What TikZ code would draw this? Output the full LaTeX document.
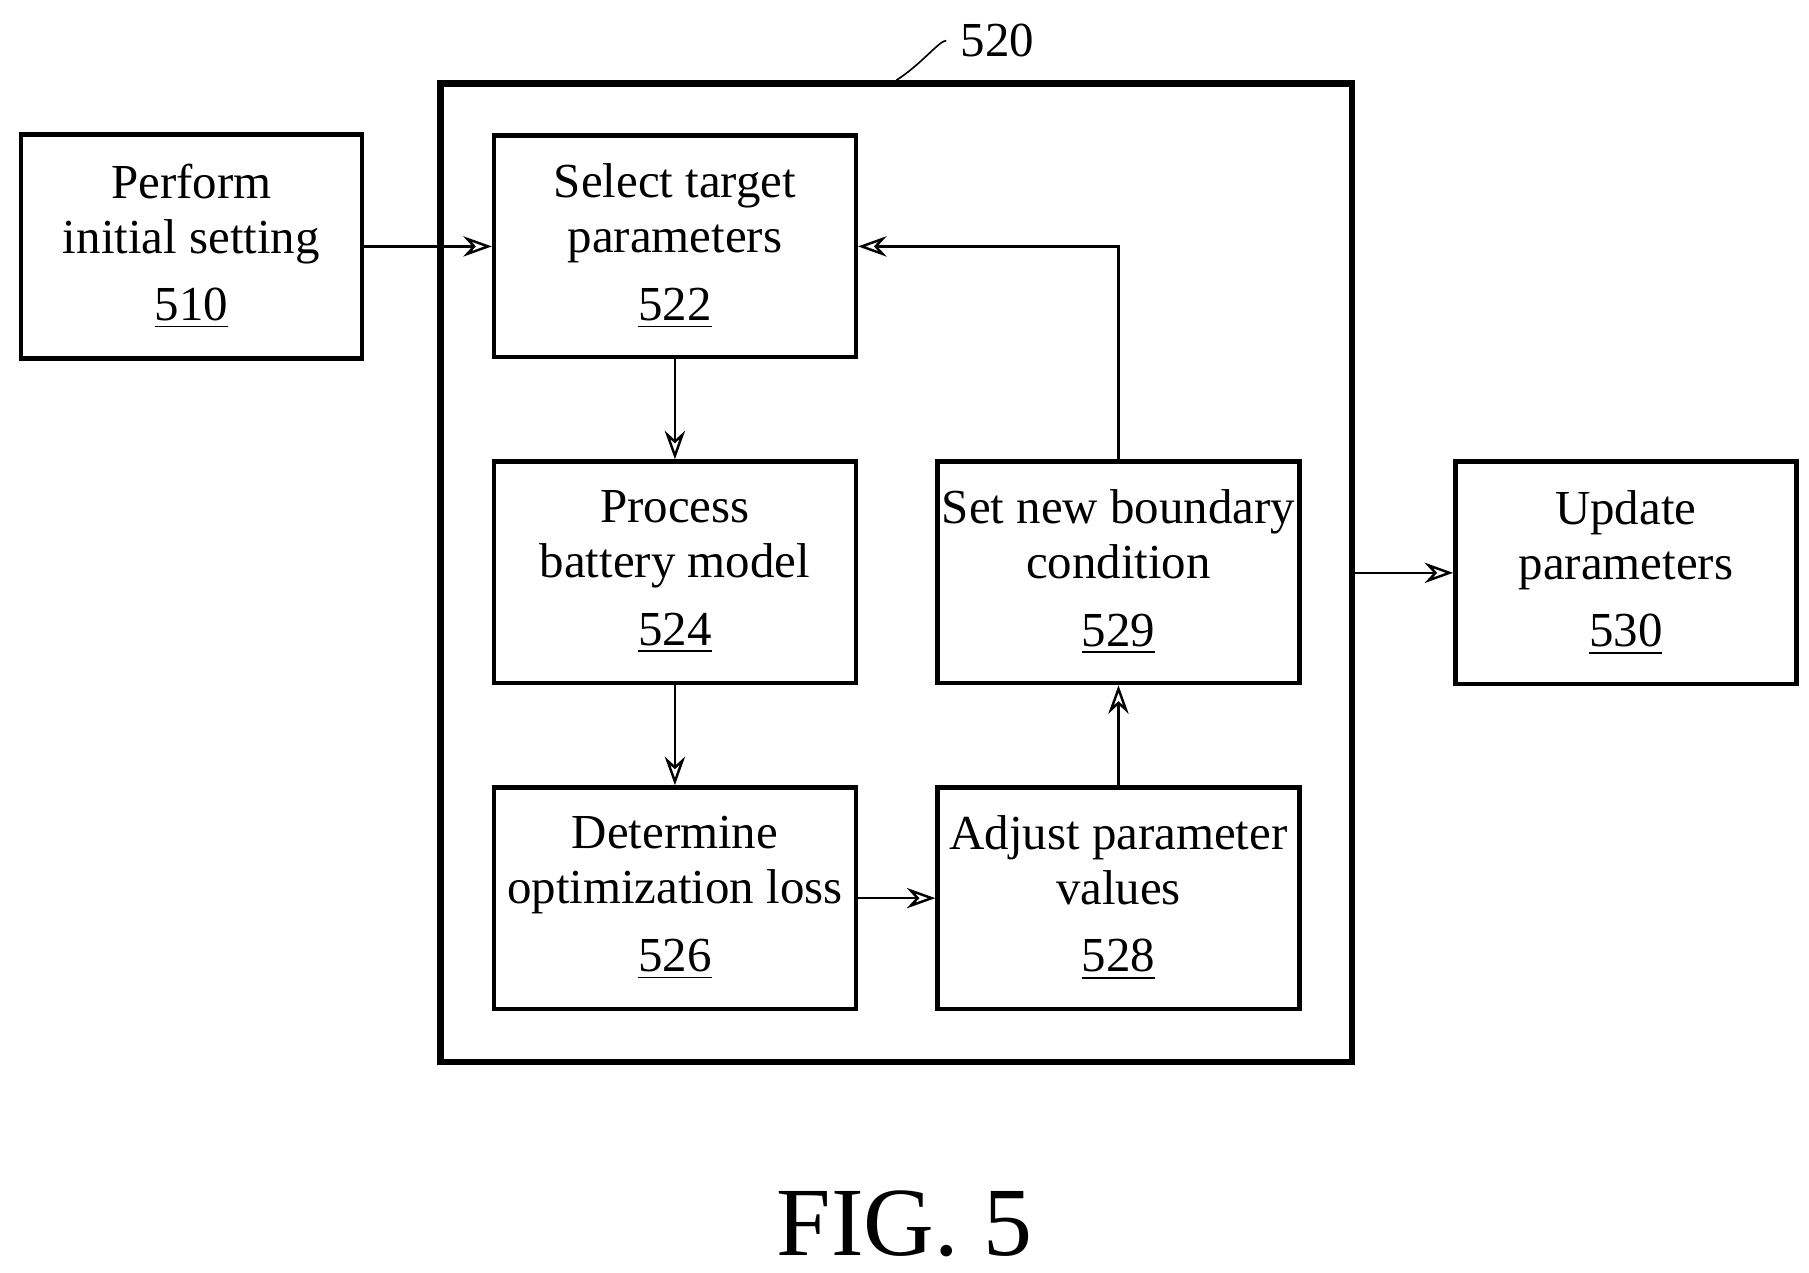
\documentclass[tikz,border=0pt]{standalone}
\usepackage{fontspec}
\setmainfont{Liberation Serif}
\usetikzlibrary{positioning,arrows.meta}

\begin{document}
\begin{tikzpicture}[font=\fontsize{12}{13.5}\selectfont, >={Stealth[length=7pt,width=5pt,open]}]
      \useasboundingbox (0,0) rectangle (15.6,-10.97);
      \tikzset{blockstep/.style={draw, line width=1.1pt, align=center, inner sep=1pt, minimum width=3.12cm, minimum height=1.91cm}}

      \node[draw, line width=1.6pt, minimum width=7.86cm, minimum height=8.44cm] (G) at (7.73,-4.94) {};

      \node[blockstep, minimum width=2.94cm, minimum height=1.93cm] (S510) at (1.65,-2.125) {Perform\\initial setting\\[3pt]\underline{510}};
      \node[blockstep]  (S522) at (5.82,-2.125) {Select target\\parameters\\[3pt]\underline{522}};
      \node[blockstep]  (S524) at (5.82,-4.935) {Process\\battery model\\[3pt]\underline{524}};
      \node[blockstep]  (S526) at (5.82,-7.745) {Determine\\optimization loss\\[3pt]\underline{526}};
      \node[blockstep]  (S529) at (9.645,-4.935) {Set new boundary\\condition\\[3pt]\underline{529}};
      \node[blockstep]  (S528) at (9.645,-7.745) {Adjust parameter\\values\\[3pt]\underline{528}};
      \node[blockstep, minimum width=2.94cm, minimum height=1.92cm] (S530) at (14.02,-4.94) {Update\\parameters\\[3pt]\underline{530}};

      \node (L520) at (8.6,-0.35) {520};
      \node (FIG) at (7.8,-10.55) {\fontsize{24}{26}\selectfont FIG. 5};

      \draw (G.north) .. controls (7.95,-0.55) and (8.1,-0.35) .. (L520.west);

      \draw[->, line width=0.6pt] (S510) -- (S522);
      \draw[->, line width=0.6pt] (S522) -- (S524);
      \draw[->, line width=0.6pt] (S524) -- (S526);
      \draw[->, line width=0.6pt] (S526) -- (S528);
      \draw[->, line width=0.6pt] (S528) -- (S529);
      \draw[->, line width=0.6pt] (S529.north) |- (S522.east);
      \draw[->, line width=0.6pt] (G.east |- S530) -- (S530);
\end{tikzpicture}
\end{document}
